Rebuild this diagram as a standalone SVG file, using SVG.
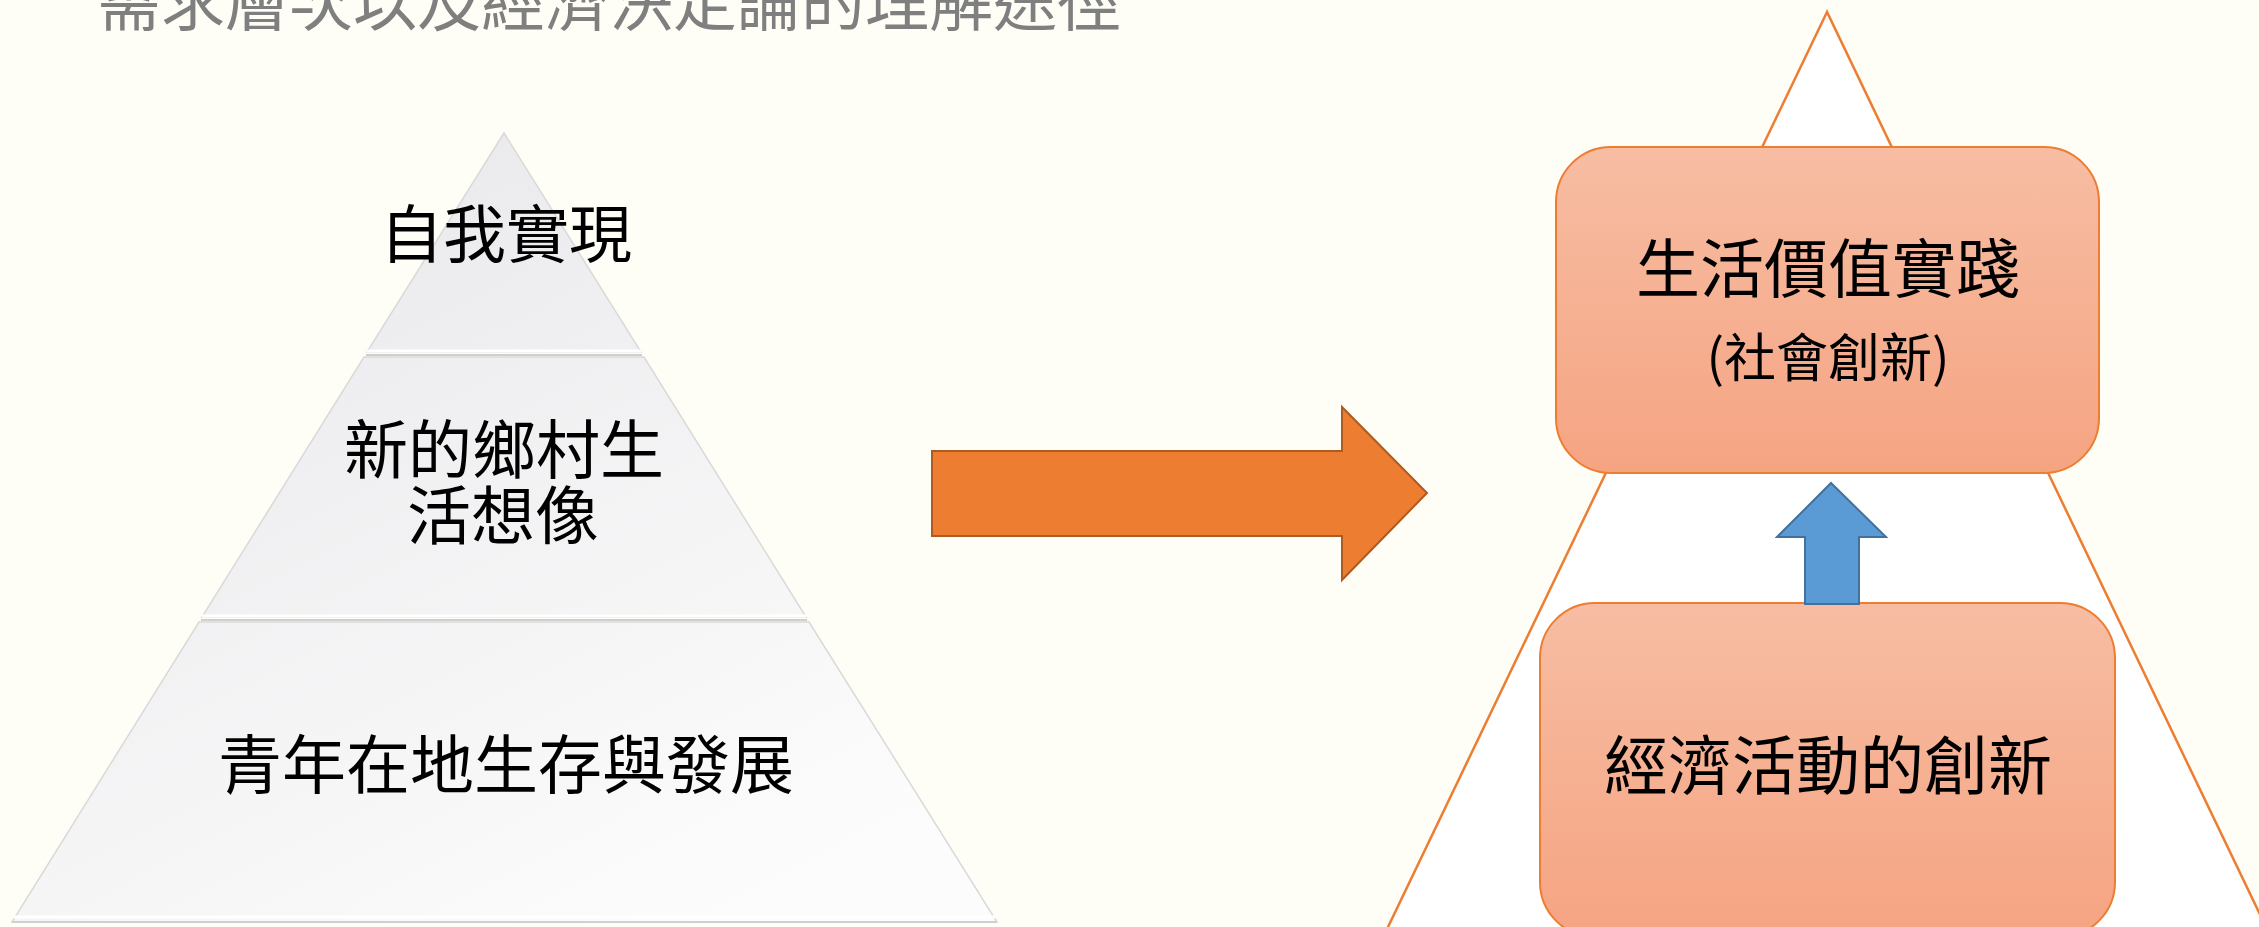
<svg xmlns="http://www.w3.org/2000/svg" width="2259" height="927" viewBox="0 0 2259 927">
<style>
.t{font-family:"Noto Sans CJK TC","Noto Sans CJK SC",sans-serif;fill:#000;text-anchor:middle}
.title{font-family:"Noto Sans CJK TC","Noto Sans CJK SC",sans-serif;fill:#7F7F7F;font-size:64px}
.box{stroke:#ED7D31;stroke-width:2;fill:url(#boxg)}
.seg{fill:url(#pyr);stroke:#D9D9D9;stroke-width:1.5}
.hl{stroke:#FFFFFF;stroke-width:3}
.sh{stroke:#CFCFCF;stroke-width:2}
</style>
<defs>
<linearGradient id="boxg" x1="0" y1="0" x2="0" y2="1">
<stop offset="0" stop-color="#F7BDA3"/>
<stop offset="1" stop-color="#F5A482"/>
</linearGradient>
<linearGradient id="pyr" gradientUnits="userSpaceOnUse" x1="300" y1="133" x2="700" y2="922">
<stop offset="0" stop-color="#E9E9EC"/>
<stop offset="1" stop-color="#FCFCFC"/>
</linearGradient>
</defs>
<rect width="2259" height="927" fill="#FEFEF6"/>
<text class="title" x="97" y="25">需求層次以及經濟決定論的理解途徑</text>

<g id="pyramid-top">
<polygon class="seg" points="504,133 367,352 641,352"/>
<line class="hl" x1="367" y1="351" x2="641" y2="351"/>
<line class="sh" x1="366" y1="355" x2="642" y2="355"/>
<text class="t" x="506" y="257" font-size="63">自我實現</text>
</g>
<g id="pyramid-middle">
<polygon class="seg" points="364,357 644,357 806,617 202,617"/>
<line class="hl" x1="202" y1="616" x2="806" y2="616"/>
<line class="sh" x1="201" y1="620" x2="807" y2="620"/>
<text class="t" font-size="64"><tspan x="504" y="473">新的鄉村生</tspan><tspan x="503" y="539">活想像</tspan></text>
</g>
<g id="pyramid-bottom">
<polygon class="seg" points="199,622 809,622 997,922 12,922"/>
<line class="hl" x1="14" y1="917" x2="995" y2="917"/>
<line class="sh" x1="12" y1="922" x2="997" y2="922"/>
<text class="t" x="506" y="788" font-size="64">青年在地生存與發展</text>
</g>

<g id="outline-triangle">
<polygon points="1827,12 1353,1000 2301,1000" fill="#FFFFFF" stroke="#ED7D31" stroke-width="2.5"/>
</g>

<g id="box-social">
<rect class="box" x="1556" y="147" width="543" height="326" rx="55" ry="55"/>
<text class="t" x="1828" y="292" font-size="64">生活價值實踐</text>
<text class="t" x="1828" y="377" font-size="52">(社會創新)</text>
</g>

<g id="box-economic">
<rect class="box" x="1540" y="603" width="575" height="334" rx="55" ry="55"/>
<text class="t" x="1828" y="789" font-size="64">經濟活動的創新</text>
</g>

<g id="connectors">
<polygon points="932,451 1342,451 1342,407 1427,493 1342,580 1342,536 932,536" fill="#ED7D31" stroke="#AE5A21" stroke-width="2"/>
<polygon points="1831,483 1886,537 1859,537 1859,604 1805,604 1805,537 1777,537" fill="#5B9BD5" stroke="#41719C" stroke-width="2"/>
</g>
</svg>
